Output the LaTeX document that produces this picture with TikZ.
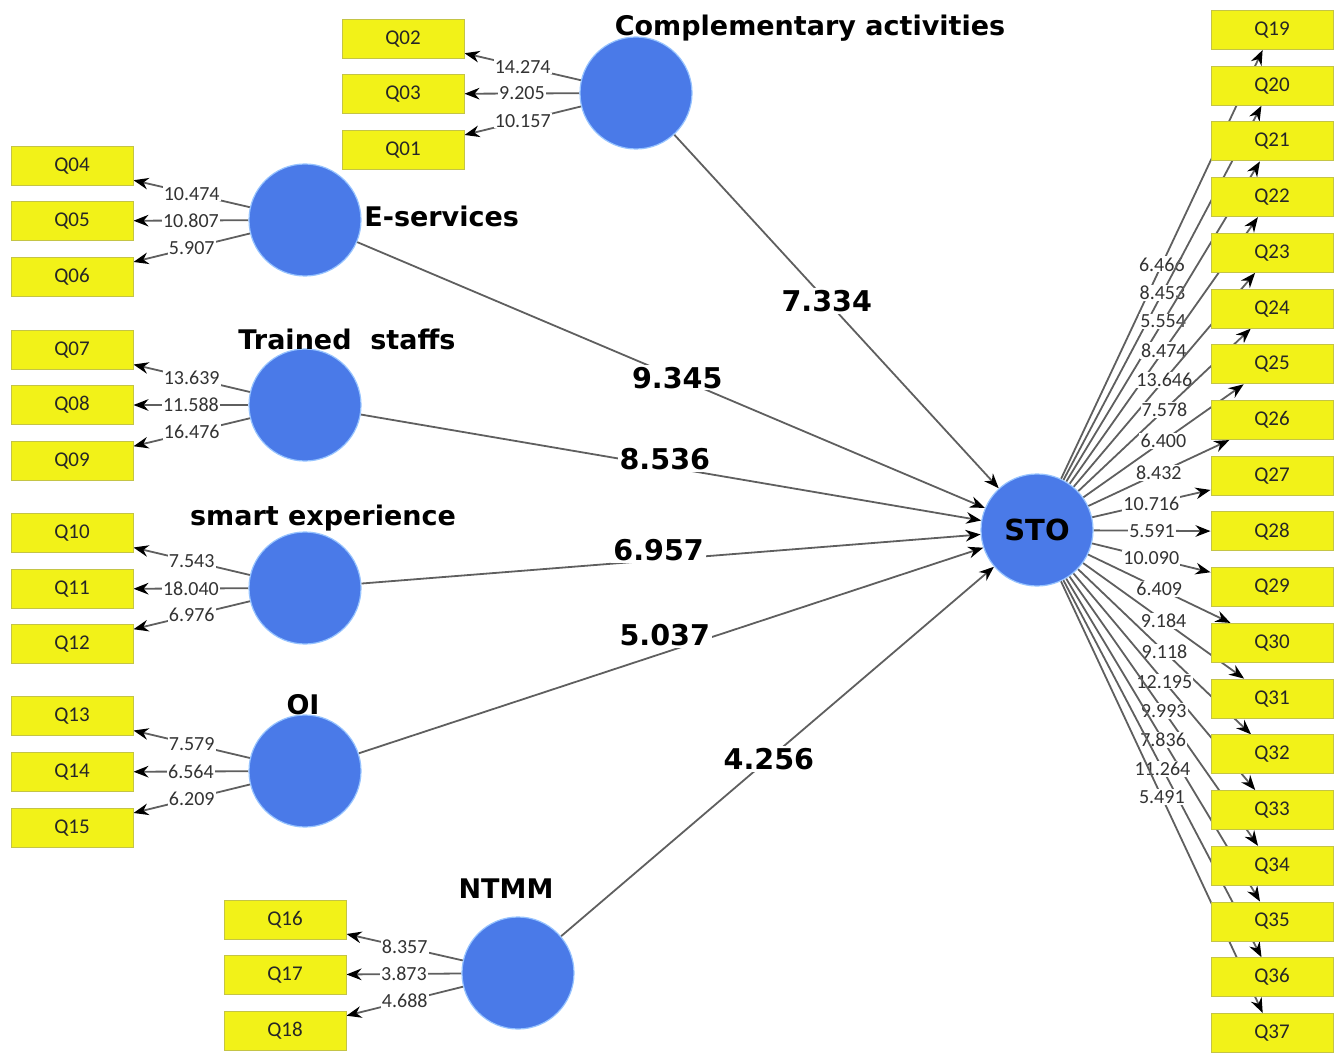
\documentclass[tikz,border=0pt]{standalone}
\usepackage{fontspec}
\setmainfont{Carlito}
\newfontfamily\headfont{DejaVu Sans}
\usetikzlibrary{arrows.meta}

\definecolor{lvblue}{RGB}{74,122,232}
\definecolor{lvrim}{RGB}{150,195,255}
\definecolor{mvyellow}{RGB}{242,242,24}
\definecolor{mvrim}{RGB}{196,196,70}
\definecolor{pathgray}{RGB}{95,95,95}

\pgfdeclarelayer{bg}
\pgfsetlayers{bg,main}

\tikzset{
 lv/.style={circle, fill=lvblue, draw=lvrim, line width=0.6pt, minimum size=56pt, inner sep=0pt},
 ind/.style={rectangle, fill=mvyellow, draw=mvrim, line width=0.5pt, minimum width=61pt, minimum height=19.5pt, inner sep=0pt, text=black!85, font=\fontsize{10.5}{12}\selectfont},
 lvname/.style={inner sep=0pt, font=\headfont\bfseries\fontsize{13.5}{15}\selectfont},
 coef/.style={fill=white, inner sep=1pt, font=\headfont\bfseries\fontsize{14.3}{16}\selectfont},
 load/.style={draw=pathgray, line width=0.9pt, ->},
 val/.style={fill=white, inner sep=0.6pt, text=black!80, font=\fontsize{10}{11}\selectfont},
}

\begin{document}
\begin{tikzpicture}[x=0.5pt, y=-0.5pt, >={Stealth[black,length=7.5pt,width=5.8pt]}]
\useasboundingbox (0,0) rectangle (1336,1053);

\foreach \q/\y in {02/39,03/94,01/150} \node[ind] (q\q) at (403,\y) {Q\q};
\foreach \q/\y in {04/166,05/221,06/277,07/350,08/405,09/461,10/533,11/589,12/644,13/716,14/772,15/828}
  \node[ind] (q\q) at (72,\y) {Q\q};
\foreach \q/\y in {16/920,17/975,18/1031} \node[ind] (q\q) at (285,\y) {Q\q};
\foreach \q [evaluate=\q as \y using {30+(\q-19)*55.72}] in {19,...,37}
  \node[ind] (q\q) at (1272,\y) {Q\q};

\node[lv] (comp) at (636,93) {};
\node[lv] (esrv) at (305,220) {};
\node[lv] (trst) at (305,405) {};
\node[lv] (smex) at (305,588) {};
\node[lv] (oi) at (305,771) {};
\node[lv] (ntmm) at (518,973) {};
\node[lv, font=\headfont\bfseries\fontsize{14.5}{16}\selectfont] (sto) at (1037,530) {STO};

\node[lvname] (comptxt) at (810,28) {Complementary activities};
\node[lvname, anchor=west] (esrvtxt) at (364,216) {E-services};
\node[lvname] (trsttxt) at (347,339) {Trained\ \ staffs};
\node[lvname] (smextxt) at (323,518) {smart experience};
\node[lvname] (oitxt) at (303,705) {OI};
\node[lvname] (ntmmtxt) at (506,889) {NTMM};

\begin{pgfonlayer}{bg}
% outer loadings
\foreach \q/\v in {02/14.274,03/9.205,01/10.157} \draw[load] (comp) -- node[val]{\v} (q\q);
\foreach \q/\v in {04/10.474,05/10.807,06/5.907} \draw[load] (esrv) -- node[val]{\v} (q\q);
\foreach \q/\v in {07/13.639,08/11.588,09/16.476} \draw[load] (trst) -- node[val]{\v} (q\q);
\foreach \q/\v in {10/7.543,11/18.040,12/6.976} \draw[load] (smex) -- node[val]{\v} (q\q);
\foreach \q/\v in {13/7.579,14/6.564,15/6.209} \draw[load] (oi) -- node[val]{\v} (q\q);
\foreach \q/\v in {16/8.357,17/3.873,18/4.688} \draw[load] (ntmm) -- node[val]{\v} (q\q);
\foreach \q/\v in {19/6.466,20/8.453,21/5.554,22/8.474,23/13.646,24/7.578,25/6.400,26/8.432,27/10.716,28/5.591,
  29/10.090,30/6.409,31/9.184,32/9.118,33/12.195,34/9.993,35/7.836,36/11.264,37/5.491}
  \draw[load] (sto) -- node[val]{\v} (q\q);

% inner model
\draw[load] (comp) -- node[coef, pos=.47]{7.334} (sto);
\draw[load] (esrv) -- node[coef, pos=.51]{9.345} (sto);
\draw[load] (trst) -- node[coef, pos=.49, yshift=3.5pt]{8.536} (sto);
\draw[load] (smex) -- node[coef, pos=.48, yshift=5pt]{6.957} (sto);
\draw[load] (oi) -- node[coef, pos=.49, yshift=8.5pt]{5.037} (sto);
\draw[load] (ntmm) -- node[coef, pos=.48]{4.256} (sto);
\end{pgfonlayer}

\end{tikzpicture}
\end{document}
